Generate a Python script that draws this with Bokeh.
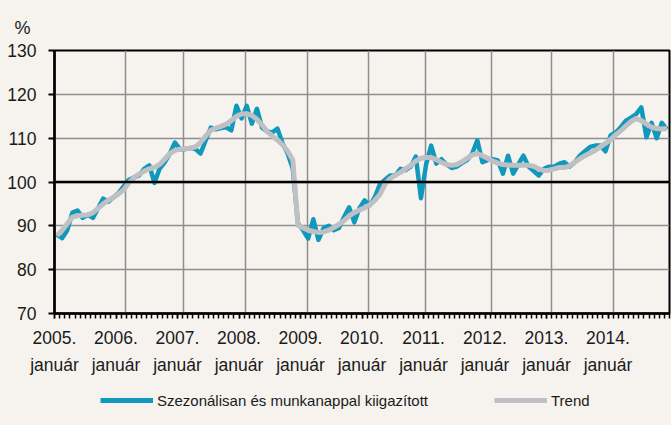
from bokeh.plotting import figure
from bokeh.layouts import column
from bokeh.models import FixedTicker, Span, Legend, LegendItem, Range1d
from bokeh.embed import file_html
from bokeh.resources import INLINE

# ---- data (monthly, January 2005 onward) ----
sa_values = [
    88.0, 87.2, 89.0, 93.0, 93.5, 91.8, 92.5, 91.8, 94.0, 96.2, 95.5, 96.5,      # 2005
    97.5, 99.0, 100.5, 101.0, 101.5, 103.0, 103.8, 99.8, 103.0, 104.5, 106.5, 109.0,  # 2006
    107.5, 107.5, 107.8, 107.5, 106.5, 109.5, 112.4, 112.0, 112.3, 112.5, 111.8, 117.4,  # 2007
    114.5, 117.4, 113.3, 116.7, 112.4, 111.5, 111.3, 112.2, 108.8, 106.5, 103.0, 90.5,  # 2008
    89.0, 87.1, 91.5, 86.8, 89.5, 90.0, 89.0, 89.5, 92.0, 94.2, 90.8, 94.0,      # 2009
    95.8, 94.7, 96.5, 99.5, 100.5, 101.5, 101.5, 103.0, 102.7, 103.5, 105.8, 96.3,  # 2010
    104.0, 108.3, 104.2, 105.2, 104.0, 103.2, 103.5, 104.3, 105.0, 106.5, 109.5, 104.5,  # 2011
    105.0, 105.2, 104.9, 101.9, 106.0, 101.9, 104.0, 106.0, 103.5, 102.5, 101.5, 103.0,  # 2012
    103.5, 103.5, 104.2, 104.5, 103.5, 104.5, 106.0, 107.0, 108.0, 108.3, 108.3, 107.0,  # 2013
    110.6, 111.3, 112.5, 114.0, 114.7, 115.5, 117.0, 110.2, 113.5, 110.0, 113.5, 112.0,  # 2014
]
trend_values = [
    87.8, 89.0, 90.5, 92.0, 92.3, 92.4, 92.5, 93.0, 94.0, 95.0, 95.8, 96.5,
    97.3, 98.2, 99.8, 101.0, 101.8, 102.5, 103.0, 103.3, 104.0, 105.2, 106.5, 107.2,
    107.5, 107.6, 107.7, 108.0, 109.0, 110.5, 111.8, 112.3, 112.7, 113.2, 114.0, 115.0,
    115.5, 115.6, 115.2, 114.3, 113.0, 111.5, 110.5, 109.6, 108.5, 107.0, 105.0, 90.1,
    89.5, 89.0, 88.7, 88.5, 88.6, 89.0, 89.6, 90.3, 91.2, 92.3, 93.0, 93.6,
    94.1, 94.8, 95.8, 97.2, 99.5, 100.8, 101.6, 102.2, 103.0, 103.8, 104.8, 105.4,
    105.6, 105.6, 105.1, 104.5, 104.0, 103.8, 104.0, 104.6, 105.4, 106.2, 106.5, 106.0,
    105.4, 104.8, 104.3, 104.0, 103.9, 103.8, 103.8, 103.8, 103.8, 103.6, 103.0, 102.6,
    102.7, 103.0, 103.3, 103.3, 103.7, 104.5, 105.3, 106.0, 106.6, 107.2, 108.0, 108.8,
    109.7, 110.8, 111.7, 112.8, 113.8, 114.5, 114.0, 113.2, 112.5, 112.2, 112.1, 112.2,
]
years = [2005, 2006, 2007, 2008, 2009, 2010, 2011, 2012, 2013, 2014]
month_label = "január"
y_ticks = [70, 80, 90, 100, 110, 120, 130]
sa_name = "Szezonálisan és munkanappal kiigazított"
trend_name = "Trend"
unit_label = "%"

# ---- styling ----
FONT = "Liberation Sans"
BG = "#f6f3ef"
TEAL = "#1199bd"
GREY = "#bfc0c4"
GRIDC = "#8e8e8e"
TXT = "#1a1a1a"

n = len(sa_values)
xs = [i + 0.5 for i in range(n)]
year_ticks = [12 * i for i in range(len(years))]
month_ticks = list(range(n + 1))
# vertical grid lines as drawn in the original (in month units)
vgrid_pos = [13.9, 25.2, 37.3, 49.4, 61.3, 72.4, 85.2, 96.9, 109.0]

p = figure(width=671, height=383, output_backend="svg", toolbar_location=None,
           x_range=Range1d(0, n), y_range=Range1d(70, 130),
           min_border_left=54, min_border_right=2, min_border_top=50, min_border_bottom=70,
           background_fill_color=BG, border_fill_color=BG)

p.outline_line_color = "black"
p.outline_line_width = 2

# unit label at top-left
p.title.text = unit_label
p.title.align = "left"
p.title.offset = -40
p.title.standoff = 25
p.title.text_font = FONT
p.title.text_font_size = "18px"
p.title.text_font_style = "normal"
p.title.text_color = TXT

# grids
p.xgrid.ticker = FixedTicker(ticks=vgrid_pos)
p.ygrid.ticker = FixedTicker(ticks=y_ticks[1:-1])
for g in (p.xgrid, p.ygrid):
    g.grid_line_color = GRIDC
    g.grid_line_width = 1.5

# x axis
xa = p.xaxis[0]
xa.ticker = FixedTicker(ticks=year_ticks, minor_ticks=month_ticks)
xa.major_label_overrides = {t: f"{y}.\n{month_label}" for t, y in zip(year_ticks, years)}
xa.axis_line_color = "black"
xa.axis_line_width = 2.5
xa.major_tick_in = 0
xa.major_tick_out = 5
xa.minor_tick_in = 0
xa.minor_tick_out = 5
xa.major_tick_line_color = "black"
xa.minor_tick_line_color = "black"
xa.major_tick_line_width = 1.5
xa.minor_tick_line_width = 1.5
xa.major_label_text_font = FONT
xa.major_label_text_font_size = "17.5px"
xa.major_label_text_line_height = 1.35
xa.major_label_text_color = TXT
xa.major_label_standoff = 9

# y axis
ya = p.yaxis[0]
ya.ticker = FixedTicker(ticks=y_ticks)
ya.axis_line_color = "black"
ya.axis_line_width = 2.5
ya.major_tick_in = 0
ya.major_tick_out = 6
ya.major_tick_line_color = "black"
ya.major_tick_line_width = 2
ya.minor_tick_line_color = None
ya.major_label_text_font = FONT
ya.major_label_text_font_size = "17.5px"
ya.major_label_text_color = TXT
ya.major_label_standoff = 12

# 100 reference line
p.add_layout(Span(location=100, dimension="width", line_color="black", line_width=2.5))

# series
p.line(xs, sa_values, line_color=TEAL, line_width=4.5, line_join="round")
p.line(xs, trend_values, line_color=GREY, line_width=5, line_join="round")

# ---- legend strip below the chart (frame aligned with the chart frame) ----
q = figure(width=671, height=42, output_backend="svg", toolbar_location=None,
           x_axis_type=None, y_axis_type=None,
           x_range=Range1d(0, 1), y_range=Range1d(0, 1),
           min_border_left=0, min_border_right=0, min_border_top=0, min_border_bottom=0,
           background_fill_color=BG, border_fill_color=BG)
q.outline_line_color = None
nan = float("nan")
l1 = q.line([nan], [nan], line_color=TEAL, line_width=5)
l2 = q.line([nan], [nan], line_color=GREY, line_width=5)
legend = Legend(items=[LegendItem(label=sa_name, renderers=[l1]),
                       LegendItem(label=trend_name, renderers=[l2])],
                orientation="horizontal", location=(46, 16),
                glyph_width=53, glyph_height=18, label_height=18, label_standoff=4,
                spacing=66, padding=0, margin=0,
                border_line_alpha=0, background_fill_alpha=0,
                label_text_font=FONT, label_text_font_size="15px",
                label_text_color=TXT)
q.add_layout(legend)

layout = column(p, q, spacing=0, styles={"background-color": BG})
open("out.html", "w").write(file_html(layout, INLINE))
